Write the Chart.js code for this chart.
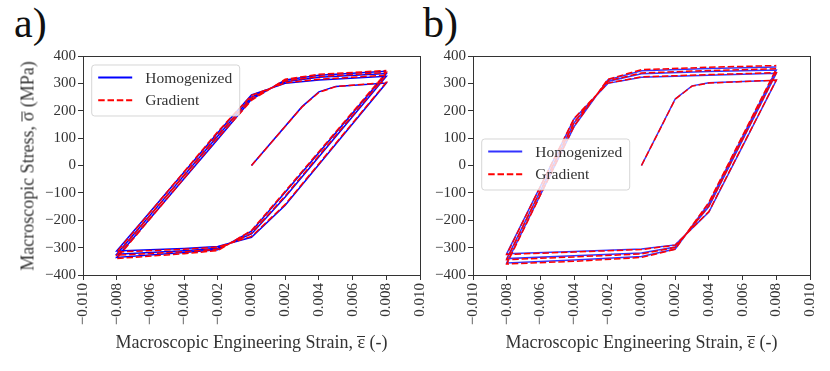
<!DOCTYPE html>
<html><head><meta charset="utf-8">
<script src="https://cdn.jsdelivr.net/npm/chart.js@4.4.0/dist/chart.umd.min.js"></script>
<style>
html,body{margin:0;padding:0;background:#fff;width:830px;height:371px;overflow:hidden;position:relative;}
canvas{position:absolute;top:0;}
#ca{left:0;} #cb{left:415px;}
.ttl{position:absolute;font-family:'Liberation Serif',serif;font-size:42px;line-height:42px;color:#111;}
.axt{position:absolute;font-family:'Liberation Serif',serif;font-size:18px;line-height:18px;height:18px;color:#333;text-align:center;white-space:nowrap;}
.ob{display:inline-block;border-top:1px solid #333;line-height:0.6em;}
</style></head><body>
<div class="ttl" style="left:14px;top:2px">a)</div>
<div class="ttl" style="left:423px;top:2px">b)</div>
<canvas id="ca" width="445" height="371" style="width:445px;height:371px"></canvas>
<canvas id="cb" width="440" height="371" style="width:440px;height:371px"></canvas>
<div class="axt" style="left:83px;width:337px;top:333px">Macroscopic Engineering Strain, <span class="ob">&epsilon;</span> (-)</div>
<div class="axt" style="left:473px;width:337px;top:333px">Macroscopic Engineering Strain, <span class="ob">&epsilon;</span> (-)</div>
<div class="axt" style="left:-138.5px;width:331px;top:156.5px;transform:rotate(-90deg);">Macroscopic Stress, <span class="ob">&sigma;</span> (MPa)</div>
<script>
// ---------- data ----------
const seriesLabels = ['Homogenized', 'Gradient'];
const xTicks = [-0.010,-0.008,-0.006,-0.004,-0.002,0,0.002,0.004,0.006,0.008,0.010];
const xTickLabels = ['\u22120.010','\u22120.008','\u22120.006','\u22120.004','\u22120.002','0.000','0.002','0.004','0.006','0.008','0.010'];
const yTicks = [-400,-300,-200,-100,0,100,200,300,400];
const yTickLabels = ['\u2212400','\u2212300','\u2212200','\u2212100','0','100','200','300','400'];

// panel a) strain path (-)
const strainA = [0, 0.003, 0.004, 0.005, 0.008,
  0.002, 0, -0.002, -0.004, -0.008,
  -0.002, 0, 0.002, 0.004, 0.008,
  0.002, 0, -0.002, -0.004, -0.008,
  -0.002, 0, 0.002, 0.004, 0.008,
  0.002, 0, -0.002, -0.004, -0.008,
  -0.002, 0, 0.002, 0.004, 0.008];
const homA = [0, 215, 269, 289, 301,
  -145, -262, -296, -303, -312,
  120, 258, 300, 312, 326,
  -115, -250, -302, -311, -324,
  108, 250, 306, 322, 336,
  -98, -240, -308, -318, -336,
  96, 242, 312, 330, 344];
const gradA = [0, 214, 267, 288, 304,
  -142, -259, -298, -306, -316,
  124, 256, 302, 315, 330,
  -111, -247, -305, -315, -328,
  112, 247, 309, 325, 340,
  -94, -237, -311, -322, -340,
  100, 238, 315, 333, 347];

// panel b) strain path (-)
const strainB = [0, 0.002, 0.003, 0.004, 0.008,
  0.004, 0.002, 0, -0.004, -0.008,
  -0.004, -0.002, 0, 0.004, 0.008,
  0.004, 0.002, 0, -0.004, -0.008,
  -0.004, -0.002, 0, 0.004, 0.008,
  0.004, 0.002, 0, -0.004, -0.008,
  -0.004, -0.002, 0, 0.004, 0.008];
const homB = [0, 243, 291, 302, 311,
  -170, -290, -305, -314, -322,
  170, 300, 322, 330, 337,
  -150, -298, -320, -330, -340,
  156, 307, 335, 343, 349,
  -138, -305, -332, -345, -356,
  142, 313, 346, 354, 360];
const gradB = [0, 242, 290, 301, 312,
  -168, -291, -307, -316, -325,
  172, 301, 324, 332, 339,
  -147, -299, -323, -334, -344,
  158, 309, 338, 347, 353,
  -134, -306, -336, -350, -360,
  144, 315, 350, 359, 365];

// ---------- chart ----------
const FONT = "'Liberation Serif', 'Times New Roman', serif";
const TXT = '#333';

const frameLegend = {
  id: 'frameLegend',
  afterDraw(chart, args, o) {
    const ctx = chart.ctx, ca = chart.chartArea;
    ctx.save();
    ctx.strokeStyle = '#333';
    ctx.lineWidth = 1;
    ctx.strokeRect(ca.left + 0.5, ca.top + 0.5, ca.right - ca.left, ca.bottom - ca.top);
    const bx = ca.left + o.dx, by = ca.top + o.dy, w = 148, h = 51, r = 3;
    ctx.beginPath();
    ctx.moveTo(bx + r, by);
    ctx.arcTo(bx + w, by, bx + w, by + h, r);
    ctx.arcTo(bx + w, by + h, bx, by + h, r);
    ctx.arcTo(bx, by + h, bx, by, r);
    ctx.arcTo(bx, by, bx + w, by, r);
    ctx.closePath();
    ctx.fillStyle = 'rgba(255,255,255,0.8)';
    ctx.fill();
    ctx.strokeStyle = 'rgba(204,204,204,0.8)';
    ctx.stroke();
    chart.data.datasets.forEach((ds, i) => {
      const y = by + 12.5 + i * 22.7;
      ctx.beginPath();
      ctx.setLineDash(ds.borderDash || []);
      ctx.strokeStyle = ds.borderColor;
      ctx.lineWidth = 2;
      ctx.moveTo(bx + 6.5, y);
      ctx.lineTo(bx + 40.5, y);
      ctx.stroke();
      ctx.setLineDash([]);
      ctx.fillStyle = TXT;
      ctx.font = "15.5px " + FONT;
      ctx.textBaseline = 'middle';
      ctx.textAlign = 'left';
      ctx.fillText(ds.label, bx + 53.5, y + 1);
    });
    ctx.restore();
  }
};

function makeChart(id, strain, hom, grad, cfg) {
  const pts = arr => strain.map((x, i) => ({x: x, y: arr[i]}));
  return new Chart(document.getElementById(id), {
    type: 'scatter',
    data: {
      datasets: [
        {label: seriesLabels[0], data: pts(hom), showLine: true, borderColor: cfg.blue, borderWidth: 1.5,
         pointRadius: 0, tension: 0, order: 2},
        {label: seriesLabels[1], data: pts(grad), showLine: true, borderColor: '#ff0000', borderWidth: 1.5,
         borderDash: [6.5, 2.8], pointRadius: 0, tension: 0, order: 1}
      ]
    },
    options: {
      responsive: false, animation: false, devicePixelRatio: 1,
      layout: {padding: {left: 0, right: cfg.padR, top: 56, bottom: 0}},
      plugins: {legend: {display: false}, tooltip: {enabled: false},
                frameLegend: {dx: cfg.lx, dy: cfg.ly}},
      scales: {
        x: {
          type: 'linear', min: -0.01, max: 0.01,
          afterBuildTicks: s => { s.ticks = xTicks.map(v => ({value: v})); },
          afterFit: s => { s.height = 96; },
          ticks: {autoSkip: false, minRotation: 90, maxRotation: 90, padding: 3, color: TXT,
                  font: {family: FONT, size: 15}, callback: (v, i) => xTickLabels[i]},
          grid: {display: true, drawOnChartArea: false, drawTicks: true, tickLength: 5, color: '#333'},
          border: {display: false},
          title: {display: false}
        },
        y: {
          type: 'linear', min: -400, max: 400,
          afterBuildTicks: s => { s.ticks = yTicks.map(v => ({value: v})); },
          afterFit: s => { s.width = cfg.yW; },
          ticks: {autoSkip: false, padding: 2, color: TXT, font: {family: FONT, size: 15},
                  callback: (v, i) => yTickLabels[i]},
          grid: {display: true, drawOnChartArea: false, drawTicks: true, tickLength: 5, color: '#333'},
          border: {display: false},
          title: {display: false}
        }
      }
    },
    plugins: [frameLegend]
  });
}

makeChart('ca', strainA, homA, gradA, {blue: '#0000ff', padR: 25, yW: 83, lx: 8.7, ly: 9});
makeChart('cb', strainB, homB, gradB, {blue: 'rgba(0,0,255,0.8)', padR: 45, yW: 58, lx: 8.7, ly: 83});
</script>
</body></html>
